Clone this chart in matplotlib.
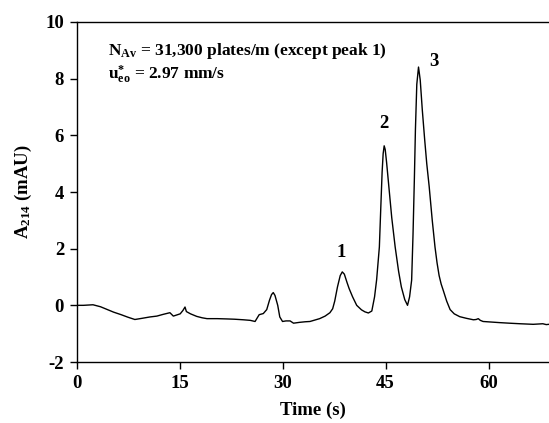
import matplotlib
matplotlib.use("Agg")
import matplotlib.pyplot as plt

plt.rcParams['font.family'] = ['Liberation Serif', 'DejaVu Serif']
plt.rcParams['mathtext.fontset'] = 'custom'
plt.rcParams['mathtext.rm'] = 'Liberation Serif:bold'
plt.rcParams['mathtext.bf'] = 'Liberation Serif:bold'
plt.rcParams['mathtext.it'] = 'Liberation Serif:bold'
plt.rcParams['axes.unicode_minus'] = False

time_s = [0.0, 1.0, 2.4, 3.5, 4.5, 5.4, 6.5, 7.5, 8.5, 9.5, 10.7, 11.7, 12.6, 13.6,
          14.1, 14.6, 15.1, 15.5, 15.8, 16.0, 16.6, 17.5, 18.3, 19.0, 20.5, 21.9,
          23.0, 24.3, 25.3, 26.0, 26.3, 26.6, 27.2, 27.7, 28.1, 28.4, 28.65, 28.9,
          29.3, 29.6, 30.0, 30.5, 31.1, 31.6, 32.5, 33.3, 34.0, 35.4, 36.2, 36.9,
          37.3, 37.6, 38.0, 38.4, 38.7, 39.0, 39.4, 39.7, 40.2, 40.8, 41.5, 42.0,
          42.5, 43.0, 43.4, 43.7, 44.1, 44.3, 44.5, 44.65, 44.8, 44.95, 45.15,
          45.4, 45.9, 46.4, 46.9, 47.3, 47.8, 48.2, 48.5, 48.8, 49.0, 49.2, 49.35,
          49.55, 49.8, 50.05, 50.35, 50.7, 51.0, 51.35, 51.8, 52.2, 52.5, 52.8,
          53.1, 53.4, 53.9, 54.4, 55.0, 55.8, 56.8, 57.8, 58.2, 58.5, 58.8, 59.2,
          60.4, 61.6, 63.0, 64.6, 66.5, 67.9, 68.4, 68.8]
absorb = [0.0, 0.0, 0.02, -0.05, -0.15, -0.24, -0.33, -0.42, -0.50, -0.46, -0.41,
          -0.38, -0.32, -0.26, -0.38, -0.34, -0.30, -0.18, -0.06, -0.22, -0.30,
          -0.39, -0.44, -0.47, -0.47, -0.48, -0.49, -0.51, -0.53, -0.57, -0.45,
          -0.33, -0.29, -0.15, 0.18, 0.38, 0.45, 0.35, 0.0, -0.41, -0.57, -0.55,
          -0.55, -0.63, -0.60, -0.58, -0.57, -0.47, -0.38, -0.26, -0.12, 0.15,
          0.65, 1.05, 1.18, 1.10, 0.80, 0.59, 0.30, 0.0, -0.16, -0.23, -0.27,
          -0.20, 0.30, 0.90, 2.06, 3.40, 4.70, 5.35, 5.63, 5.50, 5.05,
          4.40, 3.10, 2.06, 1.20, 0.65, 0.20, 0.0, 0.30, 0.89, 2.50, 4.50, 6.20,
          7.80, 8.41, 7.95, 6.90, 5.84, 5.00, 4.20, 3.00, 2.06, 1.50, 1.05,
          0.75, 0.53, 0.15, -0.15, -0.30, -0.40, -0.46, -0.51, -0.50, -0.47,
          -0.53, -0.57, -0.59, -0.61, -0.63, -0.65, -0.67, -0.65, -0.68, -0.67]

peak_labels = ["1", "2", "3"]
peak_label_t = [38.5, 44.8, 52.0]
peak_label_v = [1.85, 6.43, 8.61]

x_ticks = [0, 15, 30, 45, 60]
y_ticks = [-2, 0, 2, 4, 6, 8, 10]

fig = plt.figure(figsize=(5.49, 4.23), dpi=100)
ax = fig.add_axes([76.5 / 549, 1 - 362 / 423, (549 - 76.5) / 549, (362 - 22) / 423])
ax.plot(time_s, absorb, color='black', lw=1.0)
ax.set_xlim(0, 68.8)
ax.set_ylim(-2, 10)
ax.set_xticks(x_ticks)
ax.set_yticks(y_ticks)
ax.spines['right'].set_visible(False)
for s in ['left', 'bottom', 'top']:
    ax.spines[s].set_linewidth(1.0)
ax.tick_params(direction='out', length=5, width=1, labelsize=13.5, pad=4)
for lab in ax.get_xticklabels() + ax.get_yticklabels():
    lab.set_fontweight('bold')
ax.set_xlabel('Time (s)', fontsize=13.5, fontweight='bold', labelpad=7)
ax.set_ylabel(r'A$_{\mathbf{214}}$ (mAU)', fontsize=13.5, fontweight='bold', labelpad=8)

for lab, t, v in zip(peak_labels, peak_label_t, peak_label_v):
    ax.text(t, v, lab, ha='center', va='center', fontsize=13.5, fontweight='bold')

ax.text(0.067, 0.902, r'N$_{\mathbf{Av}}$ = 31,300 plates/m (except peak 1)',
        transform=ax.transAxes, fontsize=12.5, fontweight='bold', va='baseline')
ax.text(0.067, 0.832, r'u$^{*}_{\mathbf{eo}}$ = 2.97 mm/s',
        transform=ax.transAxes, fontsize=12.5, fontweight='bold', va='baseline')

fig.savefig('out.png', dpi=100)
